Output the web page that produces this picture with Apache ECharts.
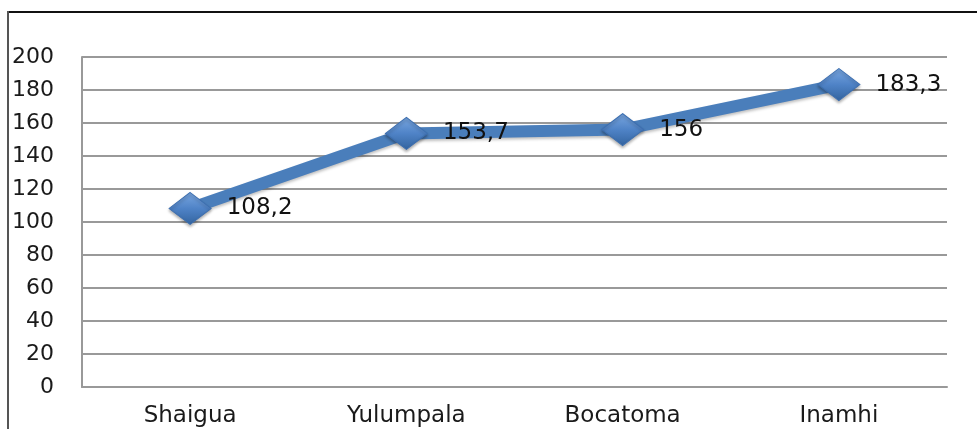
<!DOCTYPE html>
<html>
<head>
<meta charset="utf-8">
<script src="https://cdn.jsdelivr.net/npm/echarts@6/dist/echarts.min.js"></script>
<style>
  html, body { margin: 0; padding: 0; background: #fff; }
  #chart { width: 977px; height: 429px; position: relative; }
  .frame-top { position: absolute; left: 8px; top: 11px; width: 969px; height: 0; border-top: 2px solid #111; }
  .frame-left { position: absolute; left: 7px; top: 11px; width: 0; height: 418px; border-left: 2px solid #555; }
</style>
</head>
<body>
<div id="chart"></div>
<div class="frame-top"></div>
<div class="frame-left"></div>
<script>
// estaciones y precipitacion
const categories = ["Shaigua", "Yulumpala", "Bocatoma", "Inamhi"];
const values = [108.2, 153.7, 156, 183.3];
const yTicks = { min: 0, max: 200, interval: 20 };

const myChart = echarts.init(document.getElementById("chart"));

let option = {
  animation: false,
  grid: { left: 82, right: 30, top: 57, bottom: 42 },
  xAxis: {
    type: "category",
    data: categories,
    axisLine: { lineStyle: { color: "#999", width: 2 } },
    axisTick: { show: false },
    axisLabel: {
      color: "#1a1a1a",
      fontFamily: "DejaVu Sans",
      fontSize: 23,
      margin: 18
    }
  },
  yAxis: {
    type: "value",
    min: yTicks.min,
    max: yTicks.max,
    interval: yTicks.interval,
    axisLine: { show: true, lineStyle: { color: "#999", width: 2 } },
    axisTick: { show: false },
    splitLine: { lineStyle: { color: "#999", width: 2 } },
    axisLabel: {
      color: "#1a1a1a",
      fontFamily: "DejaVu Sans",
      fontSize: 22,
      margin: 28
    }
  },
  series: [
    {
      type: "line",
      data: values,
      symbol: "diamond",
      symbolSize: [42, 32],
      lineStyle: {
        color: "#4a7ebb",
        width: 12,
        shadowColor: "rgba(0,0,0,0.25)",
        shadowBlur: 3,
        shadowOffsetY: 2
      },
      itemStyle: {
        color: new echarts.graphic.LinearGradient(0, 0, 0, 1, [
          { offset: 0, color: "#7aa7e0" },
          { offset: 0.5, color: "#4f83c7" },
          { offset: 1, color: "#33649f" }
        ]),
        borderColor: "#3d6fb0",
        borderWidth: 1,
        shadowColor: "rgba(0,0,0,0.3)",
        shadowBlur: 3,
        shadowOffsetY: 2
      },
      label: {
        show: true,
        position: "right",
        distance: 15,
        color: "#111",
        fontFamily: "DejaVu Sans",
        fontSize: 23,
        formatter: p => String(p.value).replace(".", ",")
      }
    }
  ]
};
myChart.setOption(option);
</script>
</body>
</html>
